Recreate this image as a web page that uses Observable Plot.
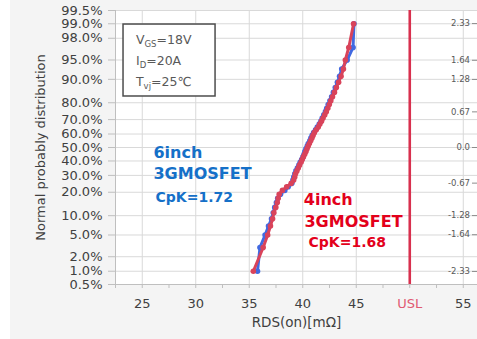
<!DOCTYPE html>
<html>
<head>
<meta charset="utf-8">
<script src="https://cdn.jsdelivr.net/npm/d3@7"></script>
<script src="https://cdn.jsdelivr.net/npm/@observablehq/plot@0.6"></script>
<style>
  html, body { margin: 0; padding: 0; background: #fff; }
  #chart { width: 477px; height: 339px; overflow: hidden;
    background: linear-gradient(to right, #ffffff 10px, #f4f4f4 10px); }
  #chart svg { display: block; }
</style>
</head>
<body>
<div id="chart"></div>
<script>
// ---- data ----
// RDS(on) values [mΩ], sorted, 50 samples per wafer size
const red4inch = [35.38, 36.30, 36.72, 36.98, 37.18, 37.30, 37.48, 37.62, 37.70, 37.80,
  38.10, 38.50, 38.92, 39.15, 39.25, 39.32, 39.45, 39.58, 39.70, 39.84,
  39.95, 40.06, 40.18, 40.30, 40.40, 40.50, 40.62, 40.74, 40.86, 40.96,
  41.08, 41.26, 41.45, 41.60, 41.75, 41.90, 42.05, 42.20, 42.34, 42.48,
  42.62, 42.78, 42.96, 43.14, 43.35, 43.58, 43.80, 43.98, 44.30, 44.75];
const blue6inch = [35.77, 36.00, 36.48, 36.80, 37.08, 37.24, 37.38, 37.54, 37.66, 37.92,
  38.32, 38.64, 38.98, 39.08, 39.16, 39.26, 39.36, 39.50, 39.64, 39.76,
  39.90, 40.02, 40.12, 40.20, 40.30, 40.42, 40.52, 40.66, 40.76, 40.88,
  41.02, 41.20, 41.36, 41.54, 41.70, 41.82, 41.97, 42.12, 42.24, 42.38,
  42.54, 42.70, 42.86, 43.04, 43.24, 43.44, 43.64, 44.15, 44.70, 44.78];
const pctTicks = [0.5, 1, 2, 5, 10, 20, 30, 40, 50, 60, 70, 80, 90, 95, 98, 99, 99.5];
const zTicks = [2.33, 1.64, 1.28, 0.67, 0.0, -0.67, -1.28, -1.64, -2.33];
const xLabelTicks = [25, 30, 35, 40, 45, 55];
const uslValue = 50;
const conditions = [
  {main: "V", sub: "GS", rest: "=18V"},
  {main: "I", sub: "D", rest: "=20A"},
  {main: "T", sub: "vj", rest: "=25℃"}
];
const blueNotes = [
  {text: "6inch", x: 26.05, z: -0.092, size: 16},
  {text: "3GMOSFET", x: 26.05, z: -0.487, size: 16},
  {text: "CpK=1.72", x: 26.24, z: -0.949, size: 14}
];
const redNotes = [
  {text: "4inch", x: 40.10, z: -0.994, size: 16},
  {text: "3GMOSFET", x: 40.16, z: -1.389, size: 16},
  {text: "CpK=1.68", x: 40.54, z: -1.789, size: 14}
];

// ---- normal probability helpers ----
function probit(p) {
  const a=[-3.969683028665376e+01,2.209460984245205e+02,-2.759285104469687e+02,1.383577518672690e+02,-3.066479806614716e+01,2.506628277459239e+00];
  const b=[-5.447609879822406e+01,1.615858368580409e+02,-1.556989798598866e+02,6.680131188771972e+01,-1.328068155288572e+01];
  const c=[-7.784894002430293e-03,-3.223964580411365e-01,-2.400758277161838e+00,-2.549732539343734e+00,4.374664141464968e+00,2.938163982698783e+00];
  const d=[7.784695709041462e-03,3.224671290700398e-01,2.445134137142996e+00,3.754408661907416e+00];
  const pl = 0.02425, ph = 1 - pl;
  if (p < pl) { const q = Math.sqrt(-2*Math.log(p)); return (((((c[0]*q+c[1])*q+c[2])*q+c[3])*q+c[4])*q+c[5])/((((d[0]*q+d[1])*q+d[2])*q+d[3])*q+1); }
  if (p <= ph) { const q = p-0.5, r = q*q; return (((((a[0]*r+a[1])*r+a[2])*r+a[3])*r+a[4])*r+a[5])*q/(((((b[0]*r+b[1])*r+b[2])*r+b[3])*r+b[4])*r+1); }
  const q = Math.sqrt(-2*Math.log(1-p)); return -(((((c[0]*q+c[1])*q+c[2])*q+c[3])*q+c[4])*q+c[5])/((((d[0]*q+d[1])*q+d[2])*q+d[3])*q+1);
}
const toPoints = (vals) => vals.map((v, i) => ({v, z: probit((i + 0.5) / vals.length)}));
const redPts = toPoints(red4inch);
const bluePts = toPoints(blue6inch);
const pctZ = pctTicks.map(p => probit(p / 100));
const pctLabel = new Map(pctZ.map((z, i) => [z, pctTicks[i].toFixed(1) + "%"]));
const zLo = probit(0.005), zHi = probit(0.995);
const xDomain = [22.5, 56.33];
const minorX = d3.range(22.5, 56.4, 2.5);

const FONT = "DejaVu Sans, Verdana, sans-serif";
const AX = "#404040";
const RED_S = "#d9435a", BLUE_S = "#4169e1";
const RED_T = "#e3001b", BLUE_T = "#1570c8";

const chart = Plot.plot({
  width: 477, height: 339,
  marginLeft: 115, marginRight: 0, marginTop: 10, marginBottom: 55,
  style: {fontFamily: FONT, background: "transparent", overflow: "visible"},
  x: {domain: xDomain},
  y: {domain: [zLo, zHi]},
  marks: [
    Plot.frame({fill: "white", stroke: null}),
    Plot.gridX([25, 30, 35, 40, 45, 50, 55], {stroke: "#d9d9d9", strokeOpacity: 1}),
    Plot.gridY(pctZ, {stroke: "#d9d9d9", strokeOpacity: 1}),
    Plot.ruleX([xDomain[0]], {stroke: "#bfbfbf"}),
    Plot.ruleY([zLo], {stroke: "#bfbfbf"}),
    Plot.axisY(pctZ, {anchor: "left", tickSize: 7, tickPadding: 6, tickFormat: d => pctLabel.get(d),
      fontSize: 13, fill: AX, stroke: "#bfbfbf", label: null}),
    Plot.axisY(zTicks, {anchor: "right", tickSize: -6, tickPadding: -1.5, textAnchor: "end",
      tickFormat: d => d === 0 ? "0.0" : d.toFixed(2), fontSize: 8.5, fill: "#595959", stroke: "#8c8c8c", label: null}),
    Plot.axisX(minorX, {tickSize: 4, tickFormat: () => "", stroke: "#bfbfbf", label: null}),
    Plot.axisX(xLabelTicks, {tickSize: 0, tickPadding: 14, fontSize: 13, fill: AX, label: null}),
    Plot.axisX([uslValue], {tickSize: 0, tickPadding: 14, fontSize: 13, fill: "#e05a72", tickFormat: () => "USL", label: null}),
    Plot.ruleX([uslValue], {stroke: "#d8304e", strokeWidth: 2.6}),
    Plot.text(["RDS(on)[mΩ]"], {frameAnchor: "bottom", dy: 42.5, fontSize: 13.5, fill: AX}),
    Plot.text(["Normal probably distribution"], {frameAnchor: "left", textAnchor: "middle", dx: -75, rotate: -90, fontSize: 13, fill: AX}),
    Plot.line(bluePts, {x: "v", y: "z", stroke: BLUE_S, strokeWidth: 3}),
    Plot.dot(bluePts, {x: "v", y: "z", r: 2.8, fill: BLUE_S}),
    Plot.line(redPts, {x: "v", y: "z", stroke: RED_S, strokeWidth: 3}),
    Plot.dot(redPts, {x: "v", y: "z", r: 2.8, fill: RED_S}),
    Plot.text(blueNotes, {x: "x", y: "z", text: "text", fontSize: d => d.size, fontWeight: "bold", fill: BLUE_T, textAnchor: "start"}),
    Plot.text(redNotes, {x: "x", y: "z", text: "text", fontSize: d => d.size, fontWeight: "bold", fill: RED_T, textAnchor: "start"})
  ]
});
document.getElementById("chart").appendChild(chart);

// conditions box, placed in data coordinates
const sx = d3.scaleLinear().domain(xDomain).range([115, 477]);
const sy = d3.scaleLinear().domain([zLo, zHi]).range([284, 10]);
const box = {x1: 23.25, x2: 31.85, zTop: 2.312, zBottom: 0.959, textX: 24.46, lineZ: [1.936, 1.541, 1.147]};
const g = d3.select(chart).append("g").attr("text-anchor", "start");
g.append("rect")
  .attr("x", sx(box.x1)).attr("y", sy(box.zTop))
  .attr("width", sx(box.x2) - sx(box.x1)).attr("height", sy(box.zBottom) - sy(box.zTop))
  .attr("fill", "white").attr("stroke", "#4d4d4d").attr("stroke-width", 1.5);
conditions.forEach((c, i) => {
  const t = g.append("text").attr("x", sx(box.textX)).attr("y", sy(box.lineZ[i]))
    .attr("text-anchor", "start")
    .attr("font-family", FONT).attr("font-size", 12.5).attr("fill", "#595959");
  t.append("tspan").text(c.main);
  t.append("tspan").attr("font-size", 8.5).attr("dy", 3).text(c.sub);
  t.append("tspan").attr("dy", -3).text(c.rest);
});
</script>
</body>
</html>
